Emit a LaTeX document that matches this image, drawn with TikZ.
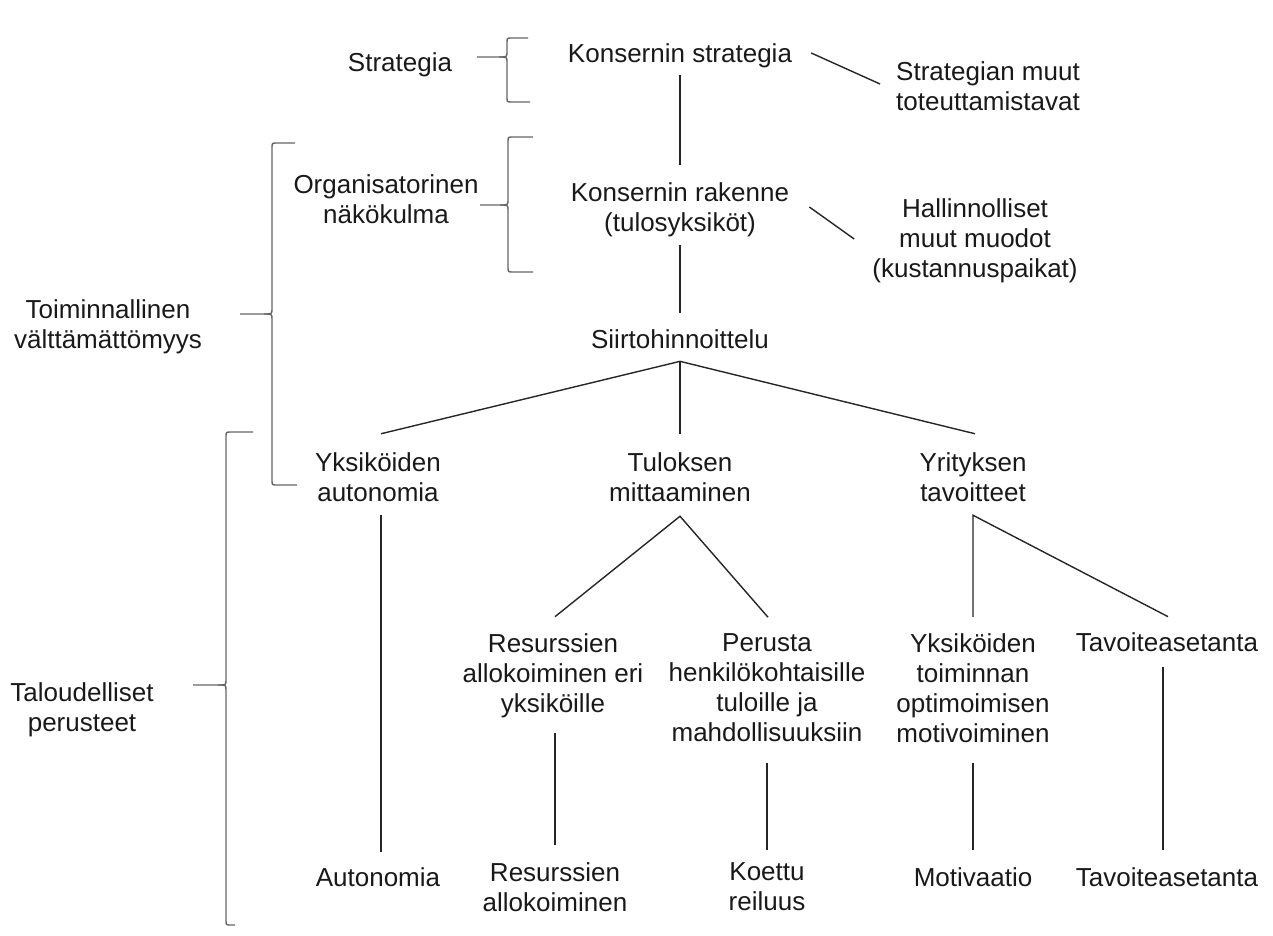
\documentclass[tikz,border=0pt]{standalone}
\usepackage{fontspec}
\setmainfont{Liberation Sans}

% curly brace: x, top, tip y, bottom, tip end, top hook end, bottom hook end
\newcommand{\drawbrace}[7]{%
  \draw[bracket] (#6,#2) -- (#1+5,#2) .. controls (#1,#2) .. (#1,#2+5) -- (#1,#3-5)
    .. controls (#1,#3) .. (#1-8,#3) -- (#5,#3);
  \draw[bracket] (#1-8,#3) .. controls (#1,#3) .. (#1,#3+5) -- (#1,#4-5)
    .. controls (#1,#4) .. (#1+5,#4) -- (#7,#4);
}

\begin{document}
\begin{tikzpicture}[x=1pt, y=-1pt,
    txt/.style={font=\fontsize{26}{30}\selectfont, align=center, inner sep=0pt, text=black!90},
    link/.style={line width=1.4pt, black!85},
    bracket/.style={line width=1.4pt, black!60}]
        \useasboundingbox (0,0) rectangle (1273,936);

        % Top levels
        \node[txt] (strat) at (400,64.7) {Strategia};
        \node[txt] (ks) at (680,56) {Konsernin strategia};
        \node[txt] (sm) at (988,86) {Strategian muut\\toteuttamistavat};
        \node[txt] (org) at (386,199) {Organisatorinen\\näkökulma};
        \node[txt] (kr) at (680,210) {Konsernin rakenne\\(tulosyksiköt)};
        \node[txt] (hm) at (975,241) {Hallinnolliset\\muut muodot\\(kustannuspaikat)};
        \node[txt] (tv) at (108,327) {Toiminnallinen\\välttämättömyys};
        \node[txt] (si) at (680,339) {Siirtohinnoittelu};

        % Three branches
        \node[txt] (ya) at (378,477) {Yksiköiden\\autonomia};
        \node[txt] (tm) at (680,477) {Tuloksen\\mittaaminen};
        \node[txt] (yt) at (973,477) {Yrityksen\\tavoitteet};

        % Sub-branches
        \node[txt] (ra) at (553,676) {Resurssien\\allokoiminen eri\\yksiköille};
        \node[txt] (pe) at (767,688) {Perusta\\henkilökohtaisille\\tuloille ja\\mahdollisuuksiin};
        \node[txt] (yto) at (973,688) {Yksiköiden\\toiminnan\\optimoimisen\\motivoiminen};
        \node[txt] (ta) at (1167,642) {Tavoiteasetanta};
        \node[txt] (tp) at (82,710) {Taloudelliset\\perusteet};

        % Bottom row
        \node[txt] (au) at (378,877) {Autonomia};
        \node[txt] (ra2) at (555,887) {Resurssien\\allokoiminen};
        \node[txt] (ko) at (767,887) {Koettu\\reiluus};
        \node[txt] (mo) at (973,877) {Motivaatio};
        \node[txt] (ta2) at (1167,877) {Tavoiteasetanta};

        % Draw the connectors
        \draw[link] ([xshift=19pt,yshift=3pt]ks.east) -- ([xshift=-16pt,yshift=2pt]sm.west);
        \draw[link] ([xshift=20pt,yshift=3pt]kr.east) -- ([xshift=-18pt,yshift=2pt]hm.west);
        \draw[link] ([yshift=-7pt]ks.south) -- ([yshift=18pt]kr.north);
        \draw[link] ([yshift=-8pt]kr.south) -- ([yshift=16.6pt]si.north);
        \draw[link] ([xshift=3pt,yshift=18.5pt]ya.north) -- ([yshift=-12.6pt]si.south)
            -- ([xshift=2pt,yshift=18.5pt]yt.north);
        \draw[link] ([yshift=-12.6pt]si.south) -- ([yshift=18.5pt]tm.north);
        \draw[link] ([xshift=3pt,yshift=-13.5pt]ya.south) -- ([xshift=3pt,yshift=15.6pt]au.north);
        \draw[link] ([xshift=2pt,yshift=17pt]ra.north) -- ([yshift=-14.5pt]tm.south)
            -- ([xshift=1pt,yshift=16.5pt]pe.north);
        \draw[link] ([xshift=2pt,yshift=-15pt]ra.south) -- ([yshift=17.5pt]ra2.north);
        \draw[link] ([yshift=-20.5pt]pe.south) -- ([yshift=12.5pt]ko.north);
        \draw[link] ([yshift=16.5pt]yto.north) -- ([yshift=-13.5pt]yt.south)
            -- ([xshift=1pt,yshift=15.6pt]ta.north);
        \draw[link] ([yshift=-20.5pt]yto.south) -- ([yshift=17.6pt]mo.north);
        \draw[link] ([xshift=-4pt,yshift=-15.6pt]ta.south) -- ([xshift=-4pt,yshift=17.6pt]ta2.north);

        % Draw the braces
        \drawbrace{507}{38}{57}{102}{477}{528}{530}
        \drawbrace{508}{137}{205}{272}{480}{533}{533}
        \drawbrace{272}{143}{314}{485}{240}{295}{297}
        \drawbrace{226}{432}{685}{925}{193}{253}{235}

    \end{tikzpicture}
\end{document}
